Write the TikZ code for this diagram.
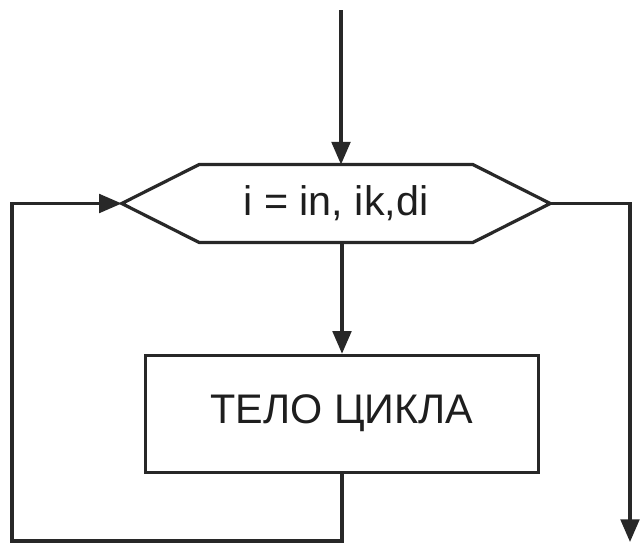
\documentclass[tikz,border=0pt]{standalone}
\usepackage{fontspec}
\setmainfont{Liberation Sans}
\usetikzlibrary{arrows.meta}
\definecolor{ink}{RGB}{40,40,40}
\definecolor{textink}{RGB}{30,30,30}
\begin{document}
\begin{tikzpicture}[x=0.75pt,y=-0.75pt,
  line/.style={draw=ink,line width=2.4pt,line join=miter},
  arr/.style={line,-{Triangle[length=17pt,width=14pt]}},
  label/.style={font=\fontsize{31}{36}\selectfont,text=textink},
  loophead/.style={label,minimum width=321pt,minimum height=58pt,inner sep=0pt},
  bodybox/.style={line,label,minimum width=295pt,minimum height=88pt,inner sep=0pt,text depth=7pt}]
\useasboundingbox[fill=white] (0,0) rectangle (643,546);

% loop header (hexagon) and loop body
\node[loophead] (loop) at (336,203.5) {i = in, ik,di};
\draw[line] (loop.west) -- ([xshift=58pt]loop.north west) -- ([xshift=-58pt]loop.north east)
  -- (loop.east) -- ([xshift=-58pt]loop.south east) -- ([xshift=58pt]loop.south west) -- cycle;
\node[bodybox] (body) at (342,414) {ТЕЛО ЦИКЛА};

% free ends of the connectors
\coordinate (start) at (341,10);
\coordinate (exit) at (630,542);
\coordinate (back) at (12,541);

% connectors
\draw[arr] (start) -- (start |- loop.north);
\draw[arr] (body.north |- loop.south) -- (body.north);
\draw[arr] (loop.east) -- (exit |- loop.east) -- (exit);
\draw[arr] (body.south) -- (body.south |- back) -- (back) -- (back |- loop.west) -- (loop.west);
\end{tikzpicture}
\end{document}
